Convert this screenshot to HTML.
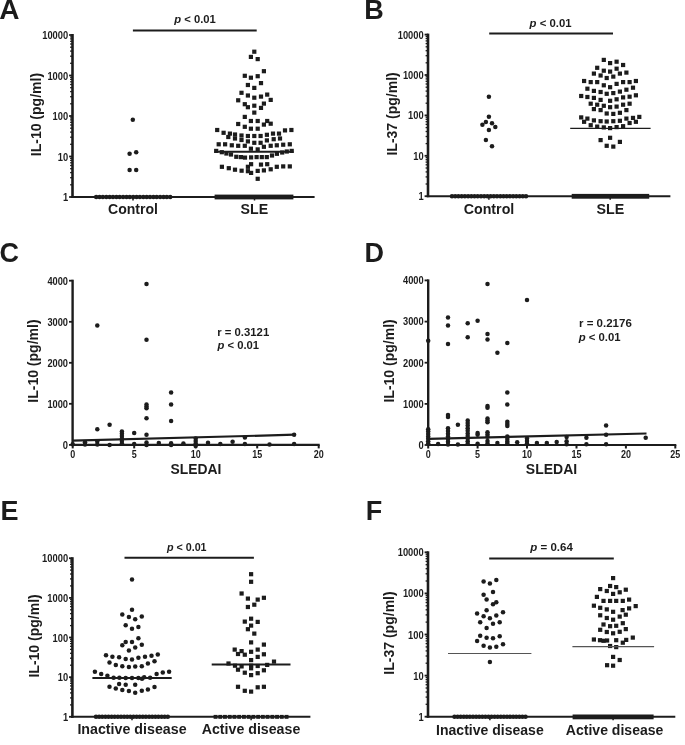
<!DOCTYPE html>
<html><head><meta charset="utf-8"><style>
html,body{margin:0;padding:0;background:#fff;}
svg{display:block;will-change:transform;}
text{font-family:"Liberation Sans",sans-serif;font-weight:bold;fill:#1c1c1c;}
</style></head><body>
<svg width="685" height="745" viewBox="0 0 685 745" fill="#1c1c1c">
<text x="-0.8" y="18.9" font-size="28">A</text>
<line x1="72.5" y1="34.0" x2="72.5" y2="198.0" stroke="#1c1c1c" stroke-width="2.6"/>
<line x1="71.2" y1="197.0" x2="314.6" y2="197.0" stroke="#1c1c1c" stroke-width="2.0"/>
<line x1="69.1" y1="35.0" x2="72.5" y2="35.0" stroke="#1c1c1c" stroke-width="1.8"/>
<text x="68.2" y="39.0" font-size="10.6" text-anchor="end" textLength="26.0" lengthAdjust="spacingAndGlyphs">10000</text>
<line x1="70.1" y1="63.3" x2="72.5" y2="63.3" stroke="#1c1c1c" stroke-width="1.3"/>
<line x1="70.1" y1="56.2" x2="72.5" y2="56.2" stroke="#1c1c1c" stroke-width="1.3"/>
<line x1="70.1" y1="51.1" x2="72.5" y2="51.1" stroke="#1c1c1c" stroke-width="1.3"/>
<line x1="70.1" y1="47.2" x2="72.5" y2="47.2" stroke="#1c1c1c" stroke-width="1.3"/>
<line x1="70.1" y1="44.0" x2="72.5" y2="44.0" stroke="#1c1c1c" stroke-width="1.3"/>
<line x1="70.1" y1="41.3" x2="72.5" y2="41.3" stroke="#1c1c1c" stroke-width="1.3"/>
<line x1="70.1" y1="38.9" x2="72.5" y2="38.9" stroke="#1c1c1c" stroke-width="1.3"/>
<line x1="70.1" y1="36.9" x2="72.5" y2="36.9" stroke="#1c1c1c" stroke-width="1.3"/>
<line x1="69.1" y1="75.5" x2="72.5" y2="75.5" stroke="#1c1c1c" stroke-width="1.8"/>
<text x="68.2" y="79.5" font-size="10.6" text-anchor="end" textLength="20.8" lengthAdjust="spacingAndGlyphs">1000</text>
<line x1="70.1" y1="103.8" x2="72.5" y2="103.8" stroke="#1c1c1c" stroke-width="1.3"/>
<line x1="70.1" y1="96.7" x2="72.5" y2="96.7" stroke="#1c1c1c" stroke-width="1.3"/>
<line x1="70.1" y1="91.6" x2="72.5" y2="91.6" stroke="#1c1c1c" stroke-width="1.3"/>
<line x1="70.1" y1="87.7" x2="72.5" y2="87.7" stroke="#1c1c1c" stroke-width="1.3"/>
<line x1="70.1" y1="84.5" x2="72.5" y2="84.5" stroke="#1c1c1c" stroke-width="1.3"/>
<line x1="70.1" y1="81.8" x2="72.5" y2="81.8" stroke="#1c1c1c" stroke-width="1.3"/>
<line x1="70.1" y1="79.4" x2="72.5" y2="79.4" stroke="#1c1c1c" stroke-width="1.3"/>
<line x1="70.1" y1="77.4" x2="72.5" y2="77.4" stroke="#1c1c1c" stroke-width="1.3"/>
<line x1="69.1" y1="116.0" x2="72.5" y2="116.0" stroke="#1c1c1c" stroke-width="1.8"/>
<text x="68.2" y="120.0" font-size="10.6" text-anchor="end" textLength="15.6" lengthAdjust="spacingAndGlyphs">100</text>
<line x1="70.1" y1="144.3" x2="72.5" y2="144.3" stroke="#1c1c1c" stroke-width="1.3"/>
<line x1="70.1" y1="137.2" x2="72.5" y2="137.2" stroke="#1c1c1c" stroke-width="1.3"/>
<line x1="70.1" y1="132.1" x2="72.5" y2="132.1" stroke="#1c1c1c" stroke-width="1.3"/>
<line x1="70.1" y1="128.2" x2="72.5" y2="128.2" stroke="#1c1c1c" stroke-width="1.3"/>
<line x1="70.1" y1="125.0" x2="72.5" y2="125.0" stroke="#1c1c1c" stroke-width="1.3"/>
<line x1="70.1" y1="122.3" x2="72.5" y2="122.3" stroke="#1c1c1c" stroke-width="1.3"/>
<line x1="70.1" y1="119.9" x2="72.5" y2="119.9" stroke="#1c1c1c" stroke-width="1.3"/>
<line x1="70.1" y1="117.9" x2="72.5" y2="117.9" stroke="#1c1c1c" stroke-width="1.3"/>
<line x1="69.1" y1="156.5" x2="72.5" y2="156.5" stroke="#1c1c1c" stroke-width="1.8"/>
<text x="68.2" y="160.5" font-size="10.6" text-anchor="end" textLength="10.4" lengthAdjust="spacingAndGlyphs">10</text>
<line x1="70.1" y1="184.8" x2="72.5" y2="184.8" stroke="#1c1c1c" stroke-width="1.3"/>
<line x1="70.1" y1="177.7" x2="72.5" y2="177.7" stroke="#1c1c1c" stroke-width="1.3"/>
<line x1="70.1" y1="172.6" x2="72.5" y2="172.6" stroke="#1c1c1c" stroke-width="1.3"/>
<line x1="70.1" y1="168.7" x2="72.5" y2="168.7" stroke="#1c1c1c" stroke-width="1.3"/>
<line x1="70.1" y1="165.5" x2="72.5" y2="165.5" stroke="#1c1c1c" stroke-width="1.3"/>
<line x1="70.1" y1="162.8" x2="72.5" y2="162.8" stroke="#1c1c1c" stroke-width="1.3"/>
<line x1="70.1" y1="160.4" x2="72.5" y2="160.4" stroke="#1c1c1c" stroke-width="1.3"/>
<line x1="70.1" y1="158.4" x2="72.5" y2="158.4" stroke="#1c1c1c" stroke-width="1.3"/>
<line x1="69.1" y1="197.0" x2="72.5" y2="197.0" stroke="#1c1c1c" stroke-width="1.8"/>
<text x="68.2" y="201.0" font-size="10.6" text-anchor="end" textLength="5.2" lengthAdjust="spacingAndGlyphs">1</text>
<text transform="translate(41.0,114.6) rotate(-90)" x="0" y="0" font-size="14" text-anchor="middle" textLength="83.3" lengthAdjust="spacingAndGlyphs">IL-10 (pg/ml)</text>
<line x1="132.9" y1="30.4" x2="256.7" y2="30.4" stroke="#1c1c1c" stroke-width="2"/>
<text x="174.2" y="23.4" font-size="10.6" textLength="41.6" lengthAdjust="spacingAndGlyphs"><tspan font-style="italic">p</tspan> &lt; 0.01</text>
<line x1="133.0" y1="197.0" x2="133.0" y2="200.5" stroke="#1c1c1c" stroke-width="1.5"/>
<line x1="254.5" y1="197.0" x2="254.5" y2="200.5" stroke="#1c1c1c" stroke-width="1.5"/>
<text x="133.0" y="214.2" font-size="14.5" text-anchor="middle" textLength="50" lengthAdjust="spacingAndGlyphs">Control</text>
<text x="254.4" y="214.2" font-size="14.5" text-anchor="middle" textLength="27.6" lengthAdjust="spacingAndGlyphs">SLE</text>
<circle cx="132.8" cy="119.8" r="2.25"/>
<circle cx="129.6" cy="153.8" r="2.25"/>
<circle cx="136.2" cy="152.3" r="2.25"/>
<circle cx="129.6" cy="169.9" r="2.25"/>
<circle cx="136.2" cy="169.9" r="2.25"/>
<circle cx="96.2" cy="197.0" r="2.25"/>
<circle cx="99.6" cy="197.0" r="2.25"/>
<circle cx="102.9" cy="197.0" r="2.25"/>
<circle cx="106.3" cy="197.0" r="2.25"/>
<circle cx="109.7" cy="197.0" r="2.25"/>
<circle cx="113.0" cy="197.0" r="2.25"/>
<circle cx="116.4" cy="197.0" r="2.25"/>
<circle cx="119.7" cy="197.0" r="2.25"/>
<circle cx="123.1" cy="197.0" r="2.25"/>
<circle cx="126.5" cy="197.0" r="2.25"/>
<circle cx="129.8" cy="197.0" r="2.25"/>
<circle cx="133.2" cy="197.0" r="2.25"/>
<circle cx="136.6" cy="197.0" r="2.25"/>
<circle cx="139.9" cy="197.0" r="2.25"/>
<circle cx="143.3" cy="197.0" r="2.25"/>
<circle cx="146.7" cy="197.0" r="2.25"/>
<circle cx="150.0" cy="197.0" r="2.25"/>
<circle cx="153.4" cy="197.0" r="2.25"/>
<circle cx="156.7" cy="197.0" r="2.25"/>
<circle cx="160.1" cy="197.0" r="2.25"/>
<circle cx="163.5" cy="197.0" r="2.25"/>
<circle cx="166.8" cy="197.0" r="2.25"/>
<circle cx="170.2" cy="197.0" r="2.25"/>
<rect x="252.2" y="49.6" width="4.2" height="4.2"/>
<rect x="248.8" y="54.8" width="4.2" height="4.2"/>
<rect x="255.6" y="57.0" width="4.2" height="4.2"/>
<rect x="261.8" y="69.1" width="4.2" height="4.2"/>
<rect x="242.7" y="73.7" width="4.2" height="4.2"/>
<rect x="248.8" y="75.6" width="4.2" height="4.2"/>
<rect x="255.6" y="74.1" width="4.2" height="4.2"/>
<rect x="258.9" y="81.0" width="4.2" height="4.2"/>
<rect x="245.8" y="82.9" width="4.2" height="4.2"/>
<rect x="252.2" y="85.8" width="4.2" height="4.2"/>
<rect x="239.4" y="90.7" width="4.2" height="4.2"/>
<rect x="245.8" y="93.4" width="4.2" height="4.2"/>
<rect x="252.2" y="95.6" width="4.2" height="4.2"/>
<rect x="258.9" y="94.5" width="4.2" height="4.2"/>
<rect x="265.1" y="92.5" width="4.2" height="4.2"/>
<rect x="236.1" y="98.2" width="4.2" height="4.2"/>
<rect x="268.6" y="97.8" width="4.2" height="4.2"/>
<rect x="242.7" y="102.1" width="4.2" height="4.2"/>
<rect x="245.8" y="105.1" width="4.2" height="4.2"/>
<rect x="252.2" y="103.6" width="4.2" height="4.2"/>
<rect x="261.8" y="101.5" width="4.2" height="4.2"/>
<rect x="258.9" y="105.8" width="4.2" height="4.2"/>
<rect x="252.2" y="110.5" width="4.2" height="4.2"/>
<rect x="242.7" y="114.8" width="4.2" height="4.2"/>
<rect x="248.8" y="118.9" width="4.2" height="4.2"/>
<rect x="255.6" y="118.9" width="4.2" height="4.2"/>
<rect x="265.1" y="118.9" width="4.2" height="4.2"/>
<rect x="236.1" y="121.9" width="4.2" height="4.2"/>
<rect x="261.8" y="122.5" width="4.2" height="4.2"/>
<rect x="268.6" y="121.6" width="4.2" height="4.2"/>
<rect x="242.7" y="124.7" width="4.2" height="4.2"/>
<rect x="248.8" y="126.6" width="4.2" height="4.2"/>
<rect x="255.6" y="126.6" width="4.2" height="4.2"/>
<rect x="215.1" y="127.9" width="4.2" height="4.2"/>
<rect x="282.9" y="128.3" width="4.2" height="4.2"/>
<rect x="289.3" y="127.9" width="4.2" height="4.2"/>
<rect x="221.5" y="130.7" width="4.2" height="4.2"/>
<rect x="227.8" y="131.5" width="4.2" height="4.2"/>
<rect x="232.9" y="132.4" width="4.2" height="4.2"/>
<rect x="239.4" y="133.4" width="4.2" height="4.2"/>
<rect x="245.8" y="133.9" width="4.2" height="4.2"/>
<rect x="252.2" y="133.9" width="4.2" height="4.2"/>
<rect x="258.5" y="133.9" width="4.2" height="4.2"/>
<rect x="264.8" y="132.7" width="4.2" height="4.2"/>
<rect x="270.9" y="131.5" width="4.2" height="4.2"/>
<rect x="276.9" y="131.5" width="4.2" height="4.2"/>
<rect x="226.2" y="134.9" width="4.2" height="4.2"/>
<rect x="232.9" y="136.4" width="4.2" height="4.2"/>
<rect x="239.4" y="137.9" width="4.2" height="4.2"/>
<rect x="245.8" y="139.3" width="4.2" height="4.2"/>
<rect x="252.2" y="140.7" width="4.2" height="4.2"/>
<rect x="258.5" y="140.7" width="4.2" height="4.2"/>
<rect x="264.8" y="138.3" width="4.2" height="4.2"/>
<rect x="271.6" y="137.1" width="4.2" height="4.2"/>
<rect x="277.9" y="136.4" width="4.2" height="4.2"/>
<rect x="216.6" y="142.2" width="4.2" height="4.2"/>
<rect x="223.0" y="142.2" width="4.2" height="4.2"/>
<rect x="229.7" y="143.2" width="4.2" height="4.2"/>
<rect x="236.1" y="143.7" width="4.2" height="4.2"/>
<rect x="242.7" y="143.7" width="4.2" height="4.2"/>
<rect x="248.8" y="146.6" width="4.2" height="4.2"/>
<rect x="255.6" y="147.3" width="4.2" height="4.2"/>
<rect x="261.8" y="144.7" width="4.2" height="4.2"/>
<rect x="268.6" y="143.7" width="4.2" height="4.2"/>
<rect x="274.7" y="143.2" width="4.2" height="4.2"/>
<rect x="281.1" y="142.6" width="4.2" height="4.2"/>
<rect x="287.7" y="142.2" width="4.2" height="4.2"/>
<rect x="214.1" y="148.8" width="4.2" height="4.2"/>
<rect x="219.7" y="150.1" width="4.2" height="4.2"/>
<rect x="224.3" y="151.4" width="4.2" height="4.2"/>
<rect x="228.9" y="152.4" width="4.2" height="4.2"/>
<rect x="234.2" y="154.7" width="4.2" height="4.2"/>
<rect x="238.8" y="155.0" width="4.2" height="4.2"/>
<rect x="242.9" y="155.5" width="4.2" height="4.2"/>
<rect x="249.0" y="155.3" width="4.2" height="4.2"/>
<rect x="254.5" y="155.0" width="4.2" height="4.2"/>
<rect x="259.7" y="155.0" width="4.2" height="4.2"/>
<rect x="264.7" y="155.0" width="4.2" height="4.2"/>
<rect x="269.9" y="153.4" width="4.2" height="4.2"/>
<rect x="274.8" y="151.7" width="4.2" height="4.2"/>
<rect x="280.1" y="150.4" width="4.2" height="4.2"/>
<rect x="284.7" y="149.4" width="4.2" height="4.2"/>
<rect x="289.6" y="148.8" width="4.2" height="4.2"/>
<rect x="219.8" y="164.7" width="4.2" height="4.2"/>
<rect x="226.7" y="166.1" width="4.2" height="4.2"/>
<rect x="232.9" y="167.6" width="4.2" height="4.2"/>
<rect x="239.5" y="168.6" width="4.2" height="4.2"/>
<rect x="245.8" y="164.7" width="4.2" height="4.2"/>
<rect x="249.0" y="162.1" width="4.2" height="4.2"/>
<rect x="245.8" y="169.1" width="4.2" height="4.2"/>
<rect x="249.0" y="170.8" width="4.2" height="4.2"/>
<rect x="255.6" y="168.8" width="4.2" height="4.2"/>
<rect x="258.9" y="162.5" width="4.2" height="4.2"/>
<rect x="265.1" y="162.1" width="4.2" height="4.2"/>
<rect x="261.8" y="168.3" width="4.2" height="4.2"/>
<rect x="268.6" y="167.2" width="4.2" height="4.2"/>
<rect x="274.7" y="164.7" width="4.2" height="4.2"/>
<rect x="281.1" y="164.3" width="4.2" height="4.2"/>
<rect x="287.7" y="164.3" width="4.2" height="4.2"/>
<rect x="255.6" y="176.7" width="4.2" height="4.2"/>
<line x1="214.6" y1="151.8" x2="293.4" y2="151.8" stroke="#1c1c1c" stroke-width="2"/>
<rect x="214.6" y="194.6" width="78.8" height="4.8"/>
<text x="364.3" y="18.8" font-size="27">B</text>
<line x1="428.0" y1="33.6" x2="428.0" y2="197.2" stroke="#1c1c1c" stroke-width="2.6"/>
<line x1="426.7" y1="196.2" x2="670.4" y2="196.2" stroke="#1c1c1c" stroke-width="2.0"/>
<line x1="424.6" y1="34.6" x2="428.0" y2="34.6" stroke="#1c1c1c" stroke-width="1.8"/>
<text x="423.7" y="38.6" font-size="10.6" text-anchor="end" textLength="26.0" lengthAdjust="spacingAndGlyphs">10000</text>
<line x1="425.6" y1="62.8" x2="428.0" y2="62.8" stroke="#1c1c1c" stroke-width="1.3"/>
<line x1="425.6" y1="55.7" x2="428.0" y2="55.7" stroke="#1c1c1c" stroke-width="1.3"/>
<line x1="425.6" y1="50.7" x2="428.0" y2="50.7" stroke="#1c1c1c" stroke-width="1.3"/>
<line x1="425.6" y1="46.8" x2="428.0" y2="46.8" stroke="#1c1c1c" stroke-width="1.3"/>
<line x1="425.6" y1="43.6" x2="428.0" y2="43.6" stroke="#1c1c1c" stroke-width="1.3"/>
<line x1="425.6" y1="40.9" x2="428.0" y2="40.9" stroke="#1c1c1c" stroke-width="1.3"/>
<line x1="425.6" y1="38.5" x2="428.0" y2="38.5" stroke="#1c1c1c" stroke-width="1.3"/>
<line x1="425.6" y1="36.4" x2="428.0" y2="36.4" stroke="#1c1c1c" stroke-width="1.3"/>
<line x1="424.6" y1="75.0" x2="428.0" y2="75.0" stroke="#1c1c1c" stroke-width="1.8"/>
<text x="423.7" y="79.0" font-size="10.6" text-anchor="end" textLength="20.8" lengthAdjust="spacingAndGlyphs">1000</text>
<line x1="425.6" y1="103.2" x2="428.0" y2="103.2" stroke="#1c1c1c" stroke-width="1.3"/>
<line x1="425.6" y1="96.1" x2="428.0" y2="96.1" stroke="#1c1c1c" stroke-width="1.3"/>
<line x1="425.6" y1="91.1" x2="428.0" y2="91.1" stroke="#1c1c1c" stroke-width="1.3"/>
<line x1="425.6" y1="87.2" x2="428.0" y2="87.2" stroke="#1c1c1c" stroke-width="1.3"/>
<line x1="425.6" y1="84.0" x2="428.0" y2="84.0" stroke="#1c1c1c" stroke-width="1.3"/>
<line x1="425.6" y1="81.3" x2="428.0" y2="81.3" stroke="#1c1c1c" stroke-width="1.3"/>
<line x1="425.6" y1="78.9" x2="428.0" y2="78.9" stroke="#1c1c1c" stroke-width="1.3"/>
<line x1="425.6" y1="76.8" x2="428.0" y2="76.8" stroke="#1c1c1c" stroke-width="1.3"/>
<line x1="424.6" y1="115.4" x2="428.0" y2="115.4" stroke="#1c1c1c" stroke-width="1.8"/>
<text x="423.7" y="119.4" font-size="10.6" text-anchor="end" textLength="15.6" lengthAdjust="spacingAndGlyphs">100</text>
<line x1="425.6" y1="143.6" x2="428.0" y2="143.6" stroke="#1c1c1c" stroke-width="1.3"/>
<line x1="425.6" y1="136.5" x2="428.0" y2="136.5" stroke="#1c1c1c" stroke-width="1.3"/>
<line x1="425.6" y1="131.5" x2="428.0" y2="131.5" stroke="#1c1c1c" stroke-width="1.3"/>
<line x1="425.6" y1="127.6" x2="428.0" y2="127.6" stroke="#1c1c1c" stroke-width="1.3"/>
<line x1="425.6" y1="124.4" x2="428.0" y2="124.4" stroke="#1c1c1c" stroke-width="1.3"/>
<line x1="425.6" y1="121.7" x2="428.0" y2="121.7" stroke="#1c1c1c" stroke-width="1.3"/>
<line x1="425.6" y1="119.3" x2="428.0" y2="119.3" stroke="#1c1c1c" stroke-width="1.3"/>
<line x1="425.6" y1="117.2" x2="428.0" y2="117.2" stroke="#1c1c1c" stroke-width="1.3"/>
<line x1="424.6" y1="155.8" x2="428.0" y2="155.8" stroke="#1c1c1c" stroke-width="1.8"/>
<text x="423.7" y="159.8" font-size="10.6" text-anchor="end" textLength="10.4" lengthAdjust="spacingAndGlyphs">10</text>
<line x1="425.6" y1="184.0" x2="428.0" y2="184.0" stroke="#1c1c1c" stroke-width="1.3"/>
<line x1="425.6" y1="176.9" x2="428.0" y2="176.9" stroke="#1c1c1c" stroke-width="1.3"/>
<line x1="425.6" y1="171.9" x2="428.0" y2="171.9" stroke="#1c1c1c" stroke-width="1.3"/>
<line x1="425.6" y1="168.0" x2="428.0" y2="168.0" stroke="#1c1c1c" stroke-width="1.3"/>
<line x1="425.6" y1="164.8" x2="428.0" y2="164.8" stroke="#1c1c1c" stroke-width="1.3"/>
<line x1="425.6" y1="162.1" x2="428.0" y2="162.1" stroke="#1c1c1c" stroke-width="1.3"/>
<line x1="425.6" y1="159.7" x2="428.0" y2="159.7" stroke="#1c1c1c" stroke-width="1.3"/>
<line x1="425.6" y1="157.6" x2="428.0" y2="157.6" stroke="#1c1c1c" stroke-width="1.3"/>
<line x1="424.6" y1="196.2" x2="428.0" y2="196.2" stroke="#1c1c1c" stroke-width="1.8"/>
<text x="423.7" y="200.2" font-size="10.6" text-anchor="end" textLength="5.2" lengthAdjust="spacingAndGlyphs">1</text>
<text transform="translate(396.6,113.9) rotate(-90)" x="0" y="0" font-size="14" text-anchor="middle" textLength="83.3" lengthAdjust="spacingAndGlyphs">IL-37 (pg/ml)</text>
<line x1="489.2" y1="33.4" x2="613.0" y2="33.4" stroke="#1c1c1c" stroke-width="2"/>
<text x="529.6" y="26.9" font-size="10.6" textLength="42" lengthAdjust="spacingAndGlyphs"><tspan font-style="italic">p</tspan> &lt; 0.01</text>
<line x1="488.9" y1="196.2" x2="488.9" y2="199.7" stroke="#1c1c1c" stroke-width="1.5"/>
<line x1="610.2" y1="196.2" x2="610.2" y2="199.7" stroke="#1c1c1c" stroke-width="1.5"/>
<text x="489.0" y="213.9" font-size="14.5" text-anchor="middle" textLength="50.6" lengthAdjust="spacingAndGlyphs">Control</text>
<text x="610.4" y="213.9" font-size="14.5" text-anchor="middle" textLength="27.8" lengthAdjust="spacingAndGlyphs">SLE</text>
<circle cx="488.9" cy="96.7" r="2.25"/>
<circle cx="488.9" cy="116.8" r="2.25"/>
<circle cx="485.9" cy="122.0" r="2.25"/>
<circle cx="482.4" cy="124.7" r="2.25"/>
<circle cx="492.0" cy="123.2" r="2.25"/>
<circle cx="495.3" cy="126.9" r="2.25"/>
<circle cx="488.9" cy="130.0" r="2.25"/>
<circle cx="485.9" cy="140.1" r="2.25"/>
<circle cx="492.0" cy="146.3" r="2.25"/>
<circle cx="452.0" cy="196.2" r="2.25"/>
<circle cx="455.2" cy="196.2" r="2.25"/>
<circle cx="458.4" cy="196.2" r="2.25"/>
<circle cx="461.7" cy="196.2" r="2.25"/>
<circle cx="464.9" cy="196.2" r="2.25"/>
<circle cx="468.1" cy="196.2" r="2.25"/>
<circle cx="471.3" cy="196.2" r="2.25"/>
<circle cx="474.5" cy="196.2" r="2.25"/>
<circle cx="477.7" cy="196.2" r="2.25"/>
<circle cx="481.0" cy="196.2" r="2.25"/>
<circle cx="484.2" cy="196.2" r="2.25"/>
<circle cx="487.4" cy="196.2" r="2.25"/>
<circle cx="490.6" cy="196.2" r="2.25"/>
<circle cx="493.8" cy="196.2" r="2.25"/>
<circle cx="497.0" cy="196.2" r="2.25"/>
<circle cx="500.3" cy="196.2" r="2.25"/>
<circle cx="503.5" cy="196.2" r="2.25"/>
<circle cx="506.7" cy="196.2" r="2.25"/>
<circle cx="509.9" cy="196.2" r="2.25"/>
<circle cx="513.1" cy="196.2" r="2.25"/>
<circle cx="516.3" cy="196.2" r="2.25"/>
<circle cx="519.6" cy="196.2" r="2.25"/>
<circle cx="522.8" cy="196.2" r="2.25"/>
<circle cx="526.0" cy="196.2" r="2.25"/>
<rect x="601.7" y="57.8" width="4.2" height="4.2"/>
<rect x="608.0" y="61.0" width="4.2" height="4.2"/>
<rect x="614.5" y="59.6" width="4.2" height="4.2"/>
<rect x="621.0" y="62.9" width="4.2" height="4.2"/>
<rect x="595.1" y="65.7" width="4.2" height="4.2"/>
<rect x="601.7" y="68.6" width="4.2" height="4.2"/>
<rect x="608.0" y="69.5" width="4.2" height="4.2"/>
<rect x="614.5" y="66.6" width="4.2" height="4.2"/>
<rect x="591.8" y="71.5" width="4.2" height="4.2"/>
<rect x="598.5" y="73.4" width="4.2" height="4.2"/>
<rect x="604.6" y="75.9" width="4.2" height="4.2"/>
<rect x="611.2" y="74.5" width="4.2" height="4.2"/>
<rect x="617.8" y="71.5" width="4.2" height="4.2"/>
<rect x="624.3" y="70.5" width="4.2" height="4.2"/>
<rect x="582.0" y="78.9" width="4.2" height="4.2"/>
<rect x="588.6" y="80.0" width="4.2" height="4.2"/>
<rect x="595.1" y="80.0" width="4.2" height="4.2"/>
<rect x="601.7" y="83.2" width="4.2" height="4.2"/>
<rect x="608.0" y="85.1" width="4.2" height="4.2"/>
<rect x="614.5" y="81.8" width="4.2" height="4.2"/>
<rect x="621.0" y="80.0" width="4.2" height="4.2"/>
<rect x="627.5" y="80.0" width="4.2" height="4.2"/>
<rect x="633.8" y="78.9" width="4.2" height="4.2"/>
<rect x="585.3" y="86.6" width="4.2" height="4.2"/>
<rect x="591.8" y="88.8" width="4.2" height="4.2"/>
<rect x="598.5" y="89.9" width="4.2" height="4.2"/>
<rect x="604.6" y="91.7" width="4.2" height="4.2"/>
<rect x="611.2" y="91.0" width="4.2" height="4.2"/>
<rect x="617.8" y="89.5" width="4.2" height="4.2"/>
<rect x="624.3" y="87.6" width="4.2" height="4.2"/>
<rect x="630.9" y="85.6" width="4.2" height="4.2"/>
<rect x="579.1" y="93.9" width="4.2" height="4.2"/>
<rect x="585.3" y="94.9" width="4.2" height="4.2"/>
<rect x="591.8" y="95.8" width="4.2" height="4.2"/>
<rect x="598.5" y="97.8" width="4.2" height="4.2"/>
<rect x="608.0" y="98.7" width="4.2" height="4.2"/>
<rect x="614.5" y="97.2" width="4.2" height="4.2"/>
<rect x="621.0" y="95.3" width="4.2" height="4.2"/>
<rect x="627.5" y="94.6" width="4.2" height="4.2"/>
<rect x="633.8" y="93.2" width="4.2" height="4.2"/>
<rect x="588.6" y="101.6" width="4.2" height="4.2"/>
<rect x="595.1" y="102.6" width="4.2" height="4.2"/>
<rect x="601.7" y="103.7" width="4.2" height="4.2"/>
<rect x="608.0" y="105.1" width="4.2" height="4.2"/>
<rect x="614.5" y="104.5" width="4.2" height="4.2"/>
<rect x="621.0" y="102.6" width="4.2" height="4.2"/>
<rect x="627.5" y="101.6" width="4.2" height="4.2"/>
<rect x="591.8" y="107.0" width="4.2" height="4.2"/>
<rect x="598.5" y="108.0" width="4.2" height="4.2"/>
<rect x="604.6" y="111.4" width="4.2" height="4.2"/>
<rect x="611.2" y="111.8" width="4.2" height="4.2"/>
<rect x="617.8" y="110.7" width="4.2" height="4.2"/>
<rect x="624.3" y="108.0" width="4.2" height="4.2"/>
<rect x="579.1" y="115.3" width="4.2" height="4.2"/>
<rect x="585.3" y="116.5" width="4.2" height="4.2"/>
<rect x="582.0" y="119.7" width="4.2" height="4.2"/>
<rect x="591.8" y="118.3" width="4.2" height="4.2"/>
<rect x="598.5" y="119.1" width="4.2" height="4.2"/>
<rect x="604.6" y="119.4" width="4.2" height="4.2"/>
<rect x="611.2" y="119.1" width="4.2" height="4.2"/>
<rect x="617.8" y="118.7" width="4.2" height="4.2"/>
<rect x="624.3" y="116.5" width="4.2" height="4.2"/>
<rect x="630.9" y="115.8" width="4.2" height="4.2"/>
<rect x="637.2" y="114.8" width="4.2" height="4.2"/>
<rect x="627.5" y="120.9" width="4.2" height="4.2"/>
<rect x="633.8" y="119.7" width="4.2" height="4.2"/>
<rect x="588.6" y="123.1" width="4.2" height="4.2"/>
<rect x="595.1" y="124.5" width="4.2" height="4.2"/>
<rect x="601.7" y="125.3" width="4.2" height="4.2"/>
<rect x="608.0" y="126.0" width="4.2" height="4.2"/>
<rect x="614.5" y="125.0" width="4.2" height="4.2"/>
<rect x="621.0" y="124.1" width="4.2" height="4.2"/>
<rect x="598.5" y="138.0" width="4.2" height="4.2"/>
<rect x="608.0" y="135.7" width="4.2" height="4.2"/>
<rect x="617.8" y="139.8" width="4.2" height="4.2"/>
<rect x="604.6" y="143.7" width="4.2" height="4.2"/>
<rect x="611.2" y="144.5" width="4.2" height="4.2"/>
<line x1="570.2" y1="128.4" x2="650.6" y2="128.4" stroke="#1c1c1c" stroke-width="1.3"/>
<rect x="571.7" y="193.9" width="77.5" height="4.8"/>
<text x="-0.5" y="262.2" font-size="27">C</text>
<line x1="72.6" y1="279.7" x2="72.6" y2="445.9" stroke="#1c1c1c" stroke-width="2.4"/>
<line x1="71.4" y1="444.9" x2="319.7" y2="444.9" stroke="#1c1c1c" stroke-width="2.2"/>
<line x1="69.0" y1="444.9" x2="72.6" y2="444.9" stroke="#1c1c1c" stroke-width="1.8"/>
<text x="68.0" y="448.7" font-size="10.4" text-anchor="end" textLength="5.2" lengthAdjust="spacingAndGlyphs">0</text>
<line x1="69.0" y1="403.8" x2="72.6" y2="403.8" stroke="#1c1c1c" stroke-width="1.8"/>
<text x="68.0" y="407.6" font-size="10.4" text-anchor="end" textLength="20.6" lengthAdjust="spacingAndGlyphs">1000</text>
<line x1="69.0" y1="362.8" x2="72.6" y2="362.8" stroke="#1c1c1c" stroke-width="1.8"/>
<text x="68.0" y="366.6" font-size="10.4" text-anchor="end" textLength="20.6" lengthAdjust="spacingAndGlyphs">2000</text>
<line x1="69.0" y1="321.8" x2="72.6" y2="321.8" stroke="#1c1c1c" stroke-width="1.8"/>
<text x="68.0" y="325.6" font-size="10.4" text-anchor="end" textLength="20.6" lengthAdjust="spacingAndGlyphs">3000</text>
<line x1="69.0" y1="280.7" x2="72.6" y2="280.7" stroke="#1c1c1c" stroke-width="1.8"/>
<text x="68.0" y="284.5" font-size="10.4" text-anchor="end" textLength="20.6" lengthAdjust="spacingAndGlyphs">4000</text>
<line x1="72.7" y1="444.9" x2="72.7" y2="448.4" stroke="#1c1c1c" stroke-width="2"/>
<text x="72.7" y="458.1" font-size="10.2" text-anchor="middle" textLength="5.0" lengthAdjust="spacingAndGlyphs">0</text>
<line x1="134.2" y1="444.9" x2="134.2" y2="448.4" stroke="#1c1c1c" stroke-width="2"/>
<text x="134.2" y="458.1" font-size="10.2" text-anchor="middle" textLength="5.0" lengthAdjust="spacingAndGlyphs">5</text>
<line x1="195.7" y1="444.9" x2="195.7" y2="448.4" stroke="#1c1c1c" stroke-width="2"/>
<text x="195.7" y="458.1" font-size="10.2" text-anchor="middle" textLength="10.0" lengthAdjust="spacingAndGlyphs">10</text>
<line x1="257.2" y1="444.9" x2="257.2" y2="448.4" stroke="#1c1c1c" stroke-width="2"/>
<text x="257.2" y="458.1" font-size="10.2" text-anchor="middle" textLength="10.0" lengthAdjust="spacingAndGlyphs">15</text>
<line x1="318.7" y1="444.9" x2="318.7" y2="448.4" stroke="#1c1c1c" stroke-width="2"/>
<text x="318.7" y="458.1" font-size="10.2" text-anchor="middle" textLength="10.0" lengthAdjust="spacingAndGlyphs">20</text>
<text transform="translate(38.2,361.1) rotate(-90)" x="0" y="0" font-size="14" text-anchor="middle" textLength="83.3" lengthAdjust="spacingAndGlyphs">IL-10 (pg/ml)</text>
<text x="195.9" y="473.9" font-size="14.5" text-anchor="middle" textLength="50.9" lengthAdjust="spacingAndGlyphs">SLEDAI</text>
<text x="217.2" y="336.0" font-size="11" textLength="52" lengthAdjust="spacingAndGlyphs">r = 0.3121</text>
<text x="217.5" y="349.4" font-size="11" textLength="41.6" lengthAdjust="spacingAndGlyphs"><tspan font-style="italic">p</tspan> &lt; 0.01</text>
<line x1="72.7" y1="440.6" x2="294.7" y2="434.7" stroke="#1c1c1c" stroke-width="2.2"/>
<circle cx="72.7" cy="444.3" r="2.25"/>
<circle cx="85.0" cy="442.3" r="2.25"/>
<circle cx="85.0" cy="444.5" r="2.25"/>
<circle cx="97.3" cy="325.4" r="2.25"/>
<circle cx="97.3" cy="429.2" r="2.25"/>
<circle cx="97.3" cy="441.4" r="2.25"/>
<circle cx="97.3" cy="444.6" r="2.25"/>
<circle cx="109.6" cy="424.7" r="2.25"/>
<circle cx="109.6" cy="444.9" r="2.25"/>
<circle cx="121.9" cy="431.5" r="2.25"/>
<circle cx="121.9" cy="433.7" r="2.25"/>
<circle cx="121.9" cy="436.0" r="2.25"/>
<circle cx="121.9" cy="438.5" r="2.25"/>
<circle cx="121.9" cy="441.0" r="2.25"/>
<circle cx="121.9" cy="443.5" r="2.25"/>
<circle cx="134.2" cy="432.9" r="2.25"/>
<circle cx="134.2" cy="444.0" r="2.25"/>
<circle cx="146.5" cy="284.1" r="2.25"/>
<circle cx="146.5" cy="339.8" r="2.25"/>
<circle cx="146.5" cy="404.6" r="2.25"/>
<circle cx="146.5" cy="406.4" r="2.25"/>
<circle cx="146.5" cy="408.3" r="2.25"/>
<circle cx="146.5" cy="418.3" r="2.25"/>
<circle cx="146.5" cy="434.7" r="2.25"/>
<circle cx="146.5" cy="442.4" r="2.25"/>
<circle cx="146.5" cy="444.9" r="2.25"/>
<circle cx="158.8" cy="442.9" r="2.25"/>
<circle cx="171.1" cy="392.5" r="2.25"/>
<circle cx="171.1" cy="404.6" r="2.25"/>
<circle cx="171.1" cy="421.0" r="2.25"/>
<circle cx="171.1" cy="443.3" r="2.25"/>
<circle cx="171.1" cy="445.0" r="2.25"/>
<circle cx="183.4" cy="443.6" r="2.25"/>
<circle cx="195.7" cy="438.5" r="2.25"/>
<circle cx="195.7" cy="441.0" r="2.25"/>
<circle cx="195.7" cy="443.5" r="2.25"/>
<circle cx="195.7" cy="446.0" r="2.25"/>
<circle cx="208.0" cy="442.8" r="2.25"/>
<circle cx="220.3" cy="443.9" r="2.25"/>
<circle cx="232.6" cy="441.8" r="2.25"/>
<circle cx="244.9" cy="437.4" r="2.25"/>
<circle cx="244.9" cy="443.9" r="2.25"/>
<circle cx="269.5" cy="444.4" r="2.25"/>
<circle cx="294.1" cy="434.7" r="2.25"/>
<circle cx="294.1" cy="443.9" r="2.25"/>
<text x="364.5" y="262.4" font-size="27">D</text>
<line x1="428.2" y1="279.4" x2="428.2" y2="446.0" stroke="#1c1c1c" stroke-width="2.4"/>
<line x1="427.0" y1="445.0" x2="676.3" y2="445.0" stroke="#1c1c1c" stroke-width="2.2"/>
<line x1="424.6" y1="445.0" x2="428.2" y2="445.0" stroke="#1c1c1c" stroke-width="1.8"/>
<text x="423.6" y="448.8" font-size="10.4" text-anchor="end" textLength="5.2" lengthAdjust="spacingAndGlyphs">0</text>
<line x1="424.6" y1="403.9" x2="428.2" y2="403.9" stroke="#1c1c1c" stroke-width="1.8"/>
<text x="423.6" y="407.7" font-size="10.4" text-anchor="end" textLength="20.6" lengthAdjust="spacingAndGlyphs">1000</text>
<line x1="424.6" y1="362.7" x2="428.2" y2="362.7" stroke="#1c1c1c" stroke-width="1.8"/>
<text x="423.6" y="366.5" font-size="10.4" text-anchor="end" textLength="20.6" lengthAdjust="spacingAndGlyphs">2000</text>
<line x1="424.6" y1="321.6" x2="428.2" y2="321.6" stroke="#1c1c1c" stroke-width="1.8"/>
<text x="423.6" y="325.4" font-size="10.4" text-anchor="end" textLength="20.6" lengthAdjust="spacingAndGlyphs">3000</text>
<line x1="424.6" y1="280.4" x2="428.2" y2="280.4" stroke="#1c1c1c" stroke-width="1.8"/>
<text x="423.6" y="284.2" font-size="10.4" text-anchor="end" textLength="20.6" lengthAdjust="spacingAndGlyphs">4000</text>
<line x1="428.2" y1="445.0" x2="428.2" y2="448.5" stroke="#1c1c1c" stroke-width="2"/>
<text x="428.2" y="458.2" font-size="10.2" text-anchor="middle" textLength="5.0" lengthAdjust="spacingAndGlyphs">0</text>
<line x1="477.6" y1="445.0" x2="477.6" y2="448.5" stroke="#1c1c1c" stroke-width="2"/>
<text x="477.6" y="458.2" font-size="10.2" text-anchor="middle" textLength="5.0" lengthAdjust="spacingAndGlyphs">5</text>
<line x1="527.0" y1="445.0" x2="527.0" y2="448.5" stroke="#1c1c1c" stroke-width="2"/>
<text x="527.0" y="458.2" font-size="10.2" text-anchor="middle" textLength="10.0" lengthAdjust="spacingAndGlyphs">10</text>
<line x1="576.5" y1="445.0" x2="576.5" y2="448.5" stroke="#1c1c1c" stroke-width="2"/>
<text x="576.5" y="458.2" font-size="10.2" text-anchor="middle" textLength="10.0" lengthAdjust="spacingAndGlyphs">15</text>
<line x1="625.9" y1="445.0" x2="625.9" y2="448.5" stroke="#1c1c1c" stroke-width="2"/>
<text x="625.9" y="458.2" font-size="10.2" text-anchor="middle" textLength="10.0" lengthAdjust="spacingAndGlyphs">20</text>
<line x1="675.3" y1="445.0" x2="675.3" y2="448.5" stroke="#1c1c1c" stroke-width="2"/>
<text x="675.3" y="458.2" font-size="10.2" text-anchor="middle" textLength="10.0" lengthAdjust="spacingAndGlyphs">25</text>
<text transform="translate(394.0,360.9) rotate(-90)" x="0" y="0" font-size="14" text-anchor="middle" textLength="83.3" lengthAdjust="spacingAndGlyphs">IL-10 (pg/ml)</text>
<text x="551.5" y="474.0" font-size="14.5" text-anchor="middle" textLength="51.3" lengthAdjust="spacingAndGlyphs">SLEDAI</text>
<text x="579.0" y="326.8" font-size="11" textLength="52.8" lengthAdjust="spacingAndGlyphs">r = 0.2176</text>
<text x="578.7" y="340.7" font-size="11" textLength="41.9" lengthAdjust="spacingAndGlyphs"><tspan font-style="italic">p</tspan> &lt; 0.01</text>
<line x1="428.2" y1="438.9" x2="646.5" y2="433.5" stroke="#1c1c1c" stroke-width="2.2"/>
<circle cx="428.2" cy="340.7" r="2.25"/>
<circle cx="428.2" cy="429.2" r="2.25"/>
<circle cx="428.2" cy="431.6" r="2.25"/>
<circle cx="428.2" cy="434.0" r="2.25"/>
<circle cx="428.2" cy="436.4" r="2.25"/>
<circle cx="428.2" cy="438.8" r="2.25"/>
<circle cx="428.2" cy="441.2" r="2.25"/>
<circle cx="428.2" cy="443.6" r="2.25"/>
<circle cx="438.1" cy="444.0" r="2.25"/>
<circle cx="448.0" cy="317.5" r="2.25"/>
<circle cx="448.0" cy="325.4" r="2.25"/>
<circle cx="448.0" cy="344.1" r="2.25"/>
<circle cx="448.0" cy="415.0" r="2.25"/>
<circle cx="448.0" cy="417.0" r="2.25"/>
<circle cx="448.0" cy="428.3" r="2.25"/>
<circle cx="448.0" cy="431.0" r="2.25"/>
<circle cx="448.0" cy="433.7" r="2.25"/>
<circle cx="448.0" cy="436.4" r="2.25"/>
<circle cx="448.0" cy="439.1" r="2.25"/>
<circle cx="448.0" cy="441.8" r="2.25"/>
<circle cx="448.0" cy="444.5" r="2.25"/>
<circle cx="457.9" cy="424.7" r="2.25"/>
<circle cx="457.9" cy="444.4" r="2.25"/>
<circle cx="467.7" cy="323.2" r="2.25"/>
<circle cx="467.7" cy="337.3" r="2.25"/>
<circle cx="467.7" cy="420.4" r="2.25"/>
<circle cx="467.7" cy="423.0" r="2.25"/>
<circle cx="467.7" cy="425.6" r="2.25"/>
<circle cx="467.7" cy="428.2" r="2.25"/>
<circle cx="467.7" cy="430.8" r="2.25"/>
<circle cx="467.7" cy="433.4" r="2.25"/>
<circle cx="467.7" cy="436.0" r="2.25"/>
<circle cx="467.7" cy="438.6" r="2.25"/>
<circle cx="467.7" cy="441.2" r="2.25"/>
<circle cx="467.7" cy="443.8" r="2.25"/>
<circle cx="477.6" cy="320.7" r="2.25"/>
<circle cx="477.6" cy="433.0" r="2.25"/>
<circle cx="477.6" cy="434.8" r="2.25"/>
<circle cx="477.6" cy="443.8" r="2.25"/>
<circle cx="487.5" cy="284.1" r="2.25"/>
<circle cx="487.5" cy="333.9" r="2.25"/>
<circle cx="487.5" cy="339.6" r="2.25"/>
<circle cx="487.5" cy="406.0" r="2.25"/>
<circle cx="487.5" cy="407.8" r="2.25"/>
<circle cx="487.5" cy="418.5" r="2.25"/>
<circle cx="487.5" cy="420.4" r="2.25"/>
<circle cx="487.5" cy="422.3" r="2.25"/>
<circle cx="487.5" cy="432.2" r="2.25"/>
<circle cx="487.5" cy="434.5" r="2.25"/>
<circle cx="487.5" cy="436.8" r="2.25"/>
<circle cx="487.5" cy="441.0" r="2.25"/>
<circle cx="487.5" cy="443.5" r="2.25"/>
<circle cx="497.4" cy="352.8" r="2.25"/>
<circle cx="497.4" cy="443.1" r="2.25"/>
<circle cx="507.3" cy="343.0" r="2.25"/>
<circle cx="507.3" cy="392.5" r="2.25"/>
<circle cx="507.3" cy="404.6" r="2.25"/>
<circle cx="507.3" cy="421.7" r="2.25"/>
<circle cx="507.3" cy="423.9" r="2.25"/>
<circle cx="507.3" cy="426.0" r="2.25"/>
<circle cx="507.3" cy="436.5" r="2.25"/>
<circle cx="507.3" cy="439.0" r="2.25"/>
<circle cx="507.3" cy="441.5" r="2.25"/>
<circle cx="507.3" cy="443.5" r="2.25"/>
<circle cx="517.2" cy="442.2" r="2.25"/>
<circle cx="527.0" cy="300.1" r="2.25"/>
<circle cx="527.0" cy="438.5" r="2.25"/>
<circle cx="527.0" cy="441.0" r="2.25"/>
<circle cx="527.0" cy="443.5" r="2.25"/>
<circle cx="536.9" cy="443.1" r="2.25"/>
<circle cx="546.8" cy="442.9" r="2.25"/>
<circle cx="556.7" cy="442.0" r="2.25"/>
<circle cx="566.6" cy="437.0" r="2.25"/>
<circle cx="566.6" cy="441.2" r="2.25"/>
<circle cx="566.6" cy="444.3" r="2.25"/>
<circle cx="586.4" cy="437.7" r="2.25"/>
<circle cx="586.4" cy="444.3" r="2.25"/>
<circle cx="606.1" cy="425.6" r="2.25"/>
<circle cx="606.1" cy="434.7" r="2.25"/>
<circle cx="606.1" cy="444.3" r="2.25"/>
<circle cx="645.7" cy="437.7" r="2.25"/>
<text x="0.5" y="519.9" font-size="27">E</text>
<line x1="72.4" y1="557.2" x2="72.4" y2="717.8" stroke="#1c1c1c" stroke-width="2.6"/>
<line x1="71.1" y1="716.8" x2="310.4" y2="716.8" stroke="#1c1c1c" stroke-width="2.0"/>
<line x1="69.0" y1="558.2" x2="72.4" y2="558.2" stroke="#1c1c1c" stroke-width="1.8"/>
<text x="68.1" y="562.2" font-size="10.6" text-anchor="end" textLength="26.0" lengthAdjust="spacingAndGlyphs">10000</text>
<line x1="70.0" y1="585.9" x2="72.4" y2="585.9" stroke="#1c1c1c" stroke-width="1.3"/>
<line x1="70.0" y1="578.9" x2="72.4" y2="578.9" stroke="#1c1c1c" stroke-width="1.3"/>
<line x1="70.0" y1="574.0" x2="72.4" y2="574.0" stroke="#1c1c1c" stroke-width="1.3"/>
<line x1="70.0" y1="570.1" x2="72.4" y2="570.1" stroke="#1c1c1c" stroke-width="1.3"/>
<line x1="70.0" y1="567.0" x2="72.4" y2="567.0" stroke="#1c1c1c" stroke-width="1.3"/>
<line x1="70.0" y1="564.3" x2="72.4" y2="564.3" stroke="#1c1c1c" stroke-width="1.3"/>
<line x1="70.0" y1="562.0" x2="72.4" y2="562.0" stroke="#1c1c1c" stroke-width="1.3"/>
<line x1="70.0" y1="560.0" x2="72.4" y2="560.0" stroke="#1c1c1c" stroke-width="1.3"/>
<line x1="69.0" y1="597.9" x2="72.4" y2="597.9" stroke="#1c1c1c" stroke-width="1.8"/>
<text x="68.1" y="601.9" font-size="10.6" text-anchor="end" textLength="20.8" lengthAdjust="spacingAndGlyphs">1000</text>
<line x1="70.0" y1="625.6" x2="72.4" y2="625.6" stroke="#1c1c1c" stroke-width="1.3"/>
<line x1="70.0" y1="618.6" x2="72.4" y2="618.6" stroke="#1c1c1c" stroke-width="1.3"/>
<line x1="70.0" y1="613.6" x2="72.4" y2="613.6" stroke="#1c1c1c" stroke-width="1.3"/>
<line x1="70.0" y1="609.8" x2="72.4" y2="609.8" stroke="#1c1c1c" stroke-width="1.3"/>
<line x1="70.0" y1="606.6" x2="72.4" y2="606.6" stroke="#1c1c1c" stroke-width="1.3"/>
<line x1="70.0" y1="604.0" x2="72.4" y2="604.0" stroke="#1c1c1c" stroke-width="1.3"/>
<line x1="70.0" y1="601.7" x2="72.4" y2="601.7" stroke="#1c1c1c" stroke-width="1.3"/>
<line x1="70.0" y1="599.7" x2="72.4" y2="599.7" stroke="#1c1c1c" stroke-width="1.3"/>
<line x1="69.0" y1="637.5" x2="72.4" y2="637.5" stroke="#1c1c1c" stroke-width="1.8"/>
<text x="68.1" y="641.5" font-size="10.6" text-anchor="end" textLength="15.6" lengthAdjust="spacingAndGlyphs">100</text>
<line x1="70.0" y1="665.2" x2="72.4" y2="665.2" stroke="#1c1c1c" stroke-width="1.3"/>
<line x1="70.0" y1="658.2" x2="72.4" y2="658.2" stroke="#1c1c1c" stroke-width="1.3"/>
<line x1="70.0" y1="653.3" x2="72.4" y2="653.3" stroke="#1c1c1c" stroke-width="1.3"/>
<line x1="70.0" y1="649.4" x2="72.4" y2="649.4" stroke="#1c1c1c" stroke-width="1.3"/>
<line x1="70.0" y1="646.3" x2="72.4" y2="646.3" stroke="#1c1c1c" stroke-width="1.3"/>
<line x1="70.0" y1="643.6" x2="72.4" y2="643.6" stroke="#1c1c1c" stroke-width="1.3"/>
<line x1="70.0" y1="641.3" x2="72.4" y2="641.3" stroke="#1c1c1c" stroke-width="1.3"/>
<line x1="70.0" y1="639.3" x2="72.4" y2="639.3" stroke="#1c1c1c" stroke-width="1.3"/>
<line x1="69.0" y1="677.2" x2="72.4" y2="677.2" stroke="#1c1c1c" stroke-width="1.8"/>
<text x="68.1" y="681.2" font-size="10.6" text-anchor="end" textLength="10.4" lengthAdjust="spacingAndGlyphs">10</text>
<line x1="70.0" y1="704.9" x2="72.4" y2="704.9" stroke="#1c1c1c" stroke-width="1.3"/>
<line x1="70.0" y1="697.9" x2="72.4" y2="697.9" stroke="#1c1c1c" stroke-width="1.3"/>
<line x1="70.0" y1="692.9" x2="72.4" y2="692.9" stroke="#1c1c1c" stroke-width="1.3"/>
<line x1="70.0" y1="689.1" x2="72.4" y2="689.1" stroke="#1c1c1c" stroke-width="1.3"/>
<line x1="70.0" y1="685.9" x2="72.4" y2="685.9" stroke="#1c1c1c" stroke-width="1.3"/>
<line x1="70.0" y1="683.3" x2="72.4" y2="683.3" stroke="#1c1c1c" stroke-width="1.3"/>
<line x1="70.0" y1="681.0" x2="72.4" y2="681.0" stroke="#1c1c1c" stroke-width="1.3"/>
<line x1="70.0" y1="679.0" x2="72.4" y2="679.0" stroke="#1c1c1c" stroke-width="1.3"/>
<line x1="69.0" y1="716.8" x2="72.4" y2="716.8" stroke="#1c1c1c" stroke-width="1.8"/>
<text x="68.1" y="720.8" font-size="10.6" text-anchor="end" textLength="5.2" lengthAdjust="spacingAndGlyphs">1</text>
<text transform="translate(38.9,635.9) rotate(-90)" x="0" y="0" font-size="14" text-anchor="middle" textLength="83.3" lengthAdjust="spacingAndGlyphs">IL-10 (pg/ml)</text>
<line x1="124.5" y1="557.8" x2="253.9" y2="557.8" stroke="#1c1c1c" stroke-width="2"/>
<text x="166.9" y="550.8" font-size="10.7" textLength="39.7" lengthAdjust="spacingAndGlyphs"><tspan font-style="italic">p</tspan> &lt; 0.01</text>
<line x1="132.0" y1="716.8" x2="132.0" y2="720.3" stroke="#1c1c1c" stroke-width="1.5"/>
<line x1="251.1" y1="716.8" x2="251.1" y2="720.3" stroke="#1c1c1c" stroke-width="1.5"/>
<text x="132.0" y="734.0" font-size="14.6" text-anchor="middle" textLength="109.2" lengthAdjust="spacingAndGlyphs">Inactive disease</text>
<text x="251.0" y="734.0" font-size="14.6" text-anchor="middle" textLength="98.6" lengthAdjust="spacingAndGlyphs">Active disease</text>
<circle cx="132.0" cy="579.5" r="2.25"/>
<circle cx="132.0" cy="609.7" r="2.25"/>
<circle cx="122.3" cy="614.5" r="2.25"/>
<circle cx="128.9" cy="617.0" r="2.25"/>
<circle cx="135.2" cy="619.3" r="2.25"/>
<circle cx="141.8" cy="616.4" r="2.25"/>
<circle cx="125.7" cy="625.2" r="2.25"/>
<circle cx="132.0" cy="628.7" r="2.25"/>
<circle cx="138.4" cy="626.9" r="2.25"/>
<circle cx="138.4" cy="638.3" r="2.25"/>
<circle cx="125.7" cy="642.0" r="2.25"/>
<circle cx="132.0" cy="642.0" r="2.25"/>
<circle cx="122.3" cy="645.2" r="2.25"/>
<circle cx="141.8" cy="644.7" r="2.25"/>
<circle cx="135.2" cy="647.4" r="2.25"/>
<circle cx="128.9" cy="650.4" r="2.25"/>
<circle cx="106.0" cy="655.3" r="2.25"/>
<circle cx="112.4" cy="656.8" r="2.25"/>
<circle cx="119.1" cy="657.2" r="2.25"/>
<circle cx="125.7" cy="659.0" r="2.25"/>
<circle cx="132.0" cy="659.4" r="2.25"/>
<circle cx="138.4" cy="657.8" r="2.25"/>
<circle cx="145.0" cy="656.8" r="2.25"/>
<circle cx="151.5" cy="655.8" r="2.25"/>
<circle cx="157.8" cy="654.6" r="2.25"/>
<circle cx="109.5" cy="662.6" r="2.25"/>
<circle cx="115.8" cy="665.1" r="2.25"/>
<circle cx="122.3" cy="666.3" r="2.25"/>
<circle cx="128.9" cy="667.0" r="2.25"/>
<circle cx="135.2" cy="666.6" r="2.25"/>
<circle cx="141.8" cy="666.3" r="2.25"/>
<circle cx="147.9" cy="663.4" r="2.25"/>
<circle cx="154.5" cy="661.2" r="2.25"/>
<circle cx="94.9" cy="671.7" r="2.25"/>
<circle cx="101.2" cy="673.9" r="2.25"/>
<circle cx="107.4" cy="675.8" r="2.25"/>
<circle cx="113.6" cy="677.7" r="2.25"/>
<circle cx="119.4" cy="677.7" r="2.25"/>
<circle cx="125.7" cy="678.0" r="2.25"/>
<circle cx="132.0" cy="678.0" r="2.25"/>
<circle cx="138.4" cy="678.0" r="2.25"/>
<circle cx="142.0" cy="678.7" r="2.25"/>
<circle cx="144.2" cy="677.2" r="2.25"/>
<circle cx="150.1" cy="677.7" r="2.25"/>
<circle cx="156.6" cy="673.9" r="2.25"/>
<circle cx="162.8" cy="672.4" r="2.25"/>
<circle cx="169.1" cy="671.7" r="2.25"/>
<circle cx="109.5" cy="686.7" r="2.25"/>
<circle cx="115.8" cy="688.6" r="2.25"/>
<circle cx="119.1" cy="684.1" r="2.25"/>
<circle cx="122.3" cy="689.9" r="2.25"/>
<circle cx="125.7" cy="684.8" r="2.25"/>
<circle cx="128.9" cy="691.1" r="2.25"/>
<circle cx="135.2" cy="684.8" r="2.25"/>
<circle cx="135.2" cy="692.8" r="2.25"/>
<circle cx="141.8" cy="690.8" r="2.25"/>
<circle cx="147.9" cy="689.6" r="2.25"/>
<circle cx="154.5" cy="687.0" r="2.25"/>
<circle cx="96.0" cy="716.8" r="2.25"/>
<circle cx="99.1" cy="716.8" r="2.25"/>
<circle cx="102.2" cy="716.8" r="2.25"/>
<circle cx="105.4" cy="716.8" r="2.25"/>
<circle cx="108.5" cy="716.8" r="2.25"/>
<circle cx="111.6" cy="716.8" r="2.25"/>
<circle cx="114.7" cy="716.8" r="2.25"/>
<circle cx="117.9" cy="716.8" r="2.25"/>
<circle cx="121.0" cy="716.8" r="2.25"/>
<circle cx="124.1" cy="716.8" r="2.25"/>
<circle cx="127.2" cy="716.8" r="2.25"/>
<circle cx="130.3" cy="716.8" r="2.25"/>
<circle cx="133.5" cy="716.8" r="2.25"/>
<circle cx="136.6" cy="716.8" r="2.25"/>
<circle cx="139.7" cy="716.8" r="2.25"/>
<circle cx="142.8" cy="716.8" r="2.25"/>
<circle cx="145.9" cy="716.8" r="2.25"/>
<circle cx="149.1" cy="716.8" r="2.25"/>
<circle cx="152.2" cy="716.8" r="2.25"/>
<circle cx="155.3" cy="716.8" r="2.25"/>
<circle cx="158.4" cy="716.8" r="2.25"/>
<circle cx="161.6" cy="716.8" r="2.25"/>
<circle cx="164.7" cy="716.8" r="2.25"/>
<circle cx="167.8" cy="716.8" r="2.25"/>
<line x1="92.4" y1="678.0" x2="171.7" y2="678.0" stroke="#1c1c1c" stroke-width="2"/>
<rect x="249.0" y="572.1" width="4.2" height="4.2"/>
<rect x="249.0" y="579.7" width="4.2" height="4.2"/>
<rect x="239.5" y="591.4" width="4.2" height="4.2"/>
<rect x="245.8" y="596.5" width="4.2" height="4.2"/>
<rect x="255.6" y="597.5" width="4.2" height="4.2"/>
<rect x="261.8" y="595.7" width="4.2" height="4.2"/>
<rect x="252.2" y="602.6" width="4.2" height="4.2"/>
<rect x="245.8" y="604.9" width="4.2" height="4.2"/>
<rect x="249.0" y="616.6" width="4.2" height="4.2"/>
<rect x="242.7" y="619.5" width="4.2" height="4.2"/>
<rect x="255.6" y="619.8" width="4.2" height="4.2"/>
<rect x="249.0" y="623.5" width="4.2" height="4.2"/>
<rect x="245.8" y="627.1" width="4.2" height="4.2"/>
<rect x="252.2" y="631.5" width="4.2" height="4.2"/>
<rect x="249.0" y="640.3" width="4.2" height="4.2"/>
<rect x="261.8" y="642.5" width="4.2" height="4.2"/>
<rect x="232.6" y="647.5" width="4.2" height="4.2"/>
<rect x="239.5" y="649.0" width="4.2" height="4.2"/>
<rect x="235.9" y="651.9" width="4.2" height="4.2"/>
<rect x="242.7" y="652.6" width="4.2" height="4.2"/>
<rect x="249.0" y="649.7" width="4.2" height="4.2"/>
<rect x="255.6" y="647.5" width="4.2" height="4.2"/>
<rect x="261.8" y="652.2" width="4.2" height="4.2"/>
<rect x="255.6" y="654.8" width="4.2" height="4.2"/>
<rect x="249.0" y="658.0" width="4.2" height="4.2"/>
<rect x="271.9" y="659.5" width="4.2" height="4.2"/>
<rect x="226.4" y="661.4" width="4.2" height="4.2"/>
<rect x="232.9" y="663.6" width="4.2" height="4.2"/>
<rect x="239.5" y="664.3" width="4.2" height="4.2"/>
<rect x="249.0" y="663.6" width="4.2" height="4.2"/>
<rect x="255.6" y="663.9" width="4.2" height="4.2"/>
<rect x="265.1" y="662.8" width="4.2" height="4.2"/>
<rect x="235.9" y="667.6" width="4.2" height="4.2"/>
<rect x="249.0" y="666.2" width="4.2" height="4.2"/>
<rect x="261.8" y="668.2" width="4.2" height="4.2"/>
<rect x="242.7" y="670.6" width="4.2" height="4.2"/>
<rect x="255.6" y="671.1" width="4.2" height="4.2"/>
<rect x="249.0" y="673.0" width="4.2" height="4.2"/>
<rect x="235.9" y="684.7" width="4.2" height="4.2"/>
<rect x="242.7" y="688.7" width="4.2" height="4.2"/>
<rect x="249.0" y="689.5" width="4.2" height="4.2"/>
<rect x="255.6" y="685.2" width="4.2" height="4.2"/>
<rect x="261.8" y="684.7" width="4.2" height="4.2"/>
<rect x="213.6" y="714.9" width="3.9" height="3.9"/>
<rect x="218.3" y="714.9" width="3.9" height="3.9"/>
<rect x="223.0" y="714.9" width="3.9" height="3.9"/>
<rect x="227.8" y="714.9" width="3.9" height="3.9"/>
<rect x="232.5" y="714.9" width="3.9" height="3.9"/>
<rect x="237.2" y="714.9" width="3.9" height="3.9"/>
<rect x="242.0" y="714.9" width="3.9" height="3.9"/>
<rect x="246.7" y="714.9" width="3.9" height="3.9"/>
<rect x="251.4" y="714.9" width="3.9" height="3.9"/>
<rect x="256.2" y="714.9" width="3.9" height="3.9"/>
<rect x="260.9" y="714.9" width="3.9" height="3.9"/>
<rect x="265.6" y="714.9" width="3.9" height="3.9"/>
<rect x="270.4" y="714.9" width="3.9" height="3.9"/>
<rect x="275.1" y="714.9" width="3.9" height="3.9"/>
<rect x="279.8" y="714.9" width="3.9" height="3.9"/>
<rect x="284.6" y="714.9" width="3.9" height="3.9"/>
<line x1="211.7" y1="664.5" x2="290.5" y2="664.5" stroke="#1c1c1c" stroke-width="2"/>
<text x="365.8" y="519.9" font-size="27">F</text>
<line x1="428.0" y1="551.3" x2="428.0" y2="717.7" stroke="#1c1c1c" stroke-width="2.6"/>
<line x1="426.7" y1="716.7" x2="675.3" y2="716.7" stroke="#1c1c1c" stroke-width="2.0"/>
<line x1="424.6" y1="552.3" x2="428.0" y2="552.3" stroke="#1c1c1c" stroke-width="1.8"/>
<text x="423.7" y="556.3" font-size="10.6" text-anchor="end" textLength="26.0" lengthAdjust="spacingAndGlyphs">10000</text>
<line x1="425.6" y1="581.0" x2="428.0" y2="581.0" stroke="#1c1c1c" stroke-width="1.3"/>
<line x1="425.6" y1="573.8" x2="428.0" y2="573.8" stroke="#1c1c1c" stroke-width="1.3"/>
<line x1="425.6" y1="568.7" x2="428.0" y2="568.7" stroke="#1c1c1c" stroke-width="1.3"/>
<line x1="425.6" y1="564.7" x2="428.0" y2="564.7" stroke="#1c1c1c" stroke-width="1.3"/>
<line x1="425.6" y1="561.4" x2="428.0" y2="561.4" stroke="#1c1c1c" stroke-width="1.3"/>
<line x1="425.6" y1="558.7" x2="428.0" y2="558.7" stroke="#1c1c1c" stroke-width="1.3"/>
<line x1="425.6" y1="556.3" x2="428.0" y2="556.3" stroke="#1c1c1c" stroke-width="1.3"/>
<line x1="425.6" y1="554.2" x2="428.0" y2="554.2" stroke="#1c1c1c" stroke-width="1.3"/>
<line x1="424.6" y1="593.4" x2="428.0" y2="593.4" stroke="#1c1c1c" stroke-width="1.8"/>
<text x="423.7" y="597.4" font-size="10.6" text-anchor="end" textLength="20.8" lengthAdjust="spacingAndGlyphs">1000</text>
<line x1="425.6" y1="622.1" x2="428.0" y2="622.1" stroke="#1c1c1c" stroke-width="1.3"/>
<line x1="425.6" y1="614.9" x2="428.0" y2="614.9" stroke="#1c1c1c" stroke-width="1.3"/>
<line x1="425.6" y1="609.8" x2="428.0" y2="609.8" stroke="#1c1c1c" stroke-width="1.3"/>
<line x1="425.6" y1="605.8" x2="428.0" y2="605.8" stroke="#1c1c1c" stroke-width="1.3"/>
<line x1="425.6" y1="602.5" x2="428.0" y2="602.5" stroke="#1c1c1c" stroke-width="1.3"/>
<line x1="425.6" y1="599.8" x2="428.0" y2="599.8" stroke="#1c1c1c" stroke-width="1.3"/>
<line x1="425.6" y1="597.4" x2="428.0" y2="597.4" stroke="#1c1c1c" stroke-width="1.3"/>
<line x1="425.6" y1="595.3" x2="428.0" y2="595.3" stroke="#1c1c1c" stroke-width="1.3"/>
<line x1="424.6" y1="634.5" x2="428.0" y2="634.5" stroke="#1c1c1c" stroke-width="1.8"/>
<text x="423.7" y="638.5" font-size="10.6" text-anchor="end" textLength="15.6" lengthAdjust="spacingAndGlyphs">100</text>
<line x1="425.6" y1="663.2" x2="428.0" y2="663.2" stroke="#1c1c1c" stroke-width="1.3"/>
<line x1="425.6" y1="656.0" x2="428.0" y2="656.0" stroke="#1c1c1c" stroke-width="1.3"/>
<line x1="425.6" y1="650.9" x2="428.0" y2="650.9" stroke="#1c1c1c" stroke-width="1.3"/>
<line x1="425.6" y1="646.9" x2="428.0" y2="646.9" stroke="#1c1c1c" stroke-width="1.3"/>
<line x1="425.6" y1="643.6" x2="428.0" y2="643.6" stroke="#1c1c1c" stroke-width="1.3"/>
<line x1="425.6" y1="640.9" x2="428.0" y2="640.9" stroke="#1c1c1c" stroke-width="1.3"/>
<line x1="425.6" y1="638.5" x2="428.0" y2="638.5" stroke="#1c1c1c" stroke-width="1.3"/>
<line x1="425.6" y1="636.4" x2="428.0" y2="636.4" stroke="#1c1c1c" stroke-width="1.3"/>
<line x1="424.6" y1="675.6" x2="428.0" y2="675.6" stroke="#1c1c1c" stroke-width="1.8"/>
<text x="423.7" y="679.6" font-size="10.6" text-anchor="end" textLength="10.4" lengthAdjust="spacingAndGlyphs">10</text>
<line x1="425.6" y1="704.3" x2="428.0" y2="704.3" stroke="#1c1c1c" stroke-width="1.3"/>
<line x1="425.6" y1="697.1" x2="428.0" y2="697.1" stroke="#1c1c1c" stroke-width="1.3"/>
<line x1="425.6" y1="692.0" x2="428.0" y2="692.0" stroke="#1c1c1c" stroke-width="1.3"/>
<line x1="425.6" y1="688.0" x2="428.0" y2="688.0" stroke="#1c1c1c" stroke-width="1.3"/>
<line x1="425.6" y1="684.7" x2="428.0" y2="684.7" stroke="#1c1c1c" stroke-width="1.3"/>
<line x1="425.6" y1="682.0" x2="428.0" y2="682.0" stroke="#1c1c1c" stroke-width="1.3"/>
<line x1="425.6" y1="679.6" x2="428.0" y2="679.6" stroke="#1c1c1c" stroke-width="1.3"/>
<line x1="425.6" y1="677.5" x2="428.0" y2="677.5" stroke="#1c1c1c" stroke-width="1.3"/>
<line x1="424.6" y1="716.7" x2="428.0" y2="716.7" stroke="#1c1c1c" stroke-width="1.8"/>
<text x="423.7" y="720.7" font-size="10.6" text-anchor="end" textLength="5.2" lengthAdjust="spacingAndGlyphs">1</text>
<text transform="translate(394.0,633.0) rotate(-90)" x="0" y="0" font-size="14" text-anchor="middle" textLength="83.3" lengthAdjust="spacingAndGlyphs">IL-37 (pg/ml)</text>
<line x1="489.2" y1="558.4" x2="613.8" y2="558.4" stroke="#1c1c1c" stroke-width="2"/>
<text x="530.3" y="551.0" font-size="10.7" textLength="42.5" lengthAdjust="spacingAndGlyphs"><tspan font-style="italic">p</tspan> = 0.64</text>
<line x1="489.9" y1="716.7" x2="489.9" y2="720.2" stroke="#1c1c1c" stroke-width="1.5"/>
<line x1="613.1" y1="716.7" x2="613.1" y2="720.2" stroke="#1c1c1c" stroke-width="1.5"/>
<text x="489.9" y="735.0" font-size="14.6" text-anchor="middle" textLength="107.6" lengthAdjust="spacingAndGlyphs">Inactive disease</text>
<text x="614.6" y="735.0" font-size="14.6" text-anchor="middle" textLength="97.6" lengthAdjust="spacingAndGlyphs">Active disease</text>
<circle cx="483.6" cy="581.4" r="2.25"/>
<circle cx="489.9" cy="583.4" r="2.25"/>
<circle cx="496.3" cy="580.1" r="2.25"/>
<circle cx="493.0" cy="592.1" r="2.25"/>
<circle cx="483.6" cy="594.8" r="2.25"/>
<circle cx="486.6" cy="599.5" r="2.25"/>
<circle cx="493.0" cy="604.2" r="2.25"/>
<circle cx="496.3" cy="602.2" r="2.25"/>
<circle cx="486.6" cy="610.3" r="2.25"/>
<circle cx="477.1" cy="613.6" r="2.25"/>
<circle cx="483.6" cy="616.3" r="2.25"/>
<circle cx="489.9" cy="618.3" r="2.25"/>
<circle cx="496.3" cy="615.6" r="2.25"/>
<circle cx="503.0" cy="612.3" r="2.25"/>
<circle cx="480.2" cy="622.3" r="2.25"/>
<circle cx="493.0" cy="623.7" r="2.25"/>
<circle cx="499.7" cy="622.3" r="2.25"/>
<circle cx="486.6" cy="628.0" r="2.25"/>
<circle cx="480.2" cy="635.8" r="2.25"/>
<circle cx="486.6" cy="637.8" r="2.25"/>
<circle cx="493.0" cy="638.2" r="2.25"/>
<circle cx="499.7" cy="636.2" r="2.25"/>
<circle cx="477.1" cy="641.1" r="2.25"/>
<circle cx="483.6" cy="645.8" r="2.25"/>
<circle cx="489.9" cy="647.6" r="2.25"/>
<circle cx="496.3" cy="646.8" r="2.25"/>
<circle cx="503.0" cy="644.2" r="2.25"/>
<circle cx="489.9" cy="662.0" r="2.25"/>
<circle cx="454.5" cy="716.7" r="2.25"/>
<circle cx="457.6" cy="716.7" r="2.25"/>
<circle cx="460.7" cy="716.7" r="2.25"/>
<circle cx="463.8" cy="716.7" r="2.25"/>
<circle cx="466.8" cy="716.7" r="2.25"/>
<circle cx="469.9" cy="716.7" r="2.25"/>
<circle cx="473.0" cy="716.7" r="2.25"/>
<circle cx="476.1" cy="716.7" r="2.25"/>
<circle cx="479.2" cy="716.7" r="2.25"/>
<circle cx="482.3" cy="716.7" r="2.25"/>
<circle cx="485.4" cy="716.7" r="2.25"/>
<circle cx="488.5" cy="716.7" r="2.25"/>
<circle cx="491.5" cy="716.7" r="2.25"/>
<circle cx="494.6" cy="716.7" r="2.25"/>
<circle cx="497.7" cy="716.7" r="2.25"/>
<circle cx="500.8" cy="716.7" r="2.25"/>
<circle cx="503.9" cy="716.7" r="2.25"/>
<circle cx="507.0" cy="716.7" r="2.25"/>
<circle cx="510.1" cy="716.7" r="2.25"/>
<circle cx="513.2" cy="716.7" r="2.25"/>
<circle cx="516.2" cy="716.7" r="2.25"/>
<circle cx="519.3" cy="716.7" r="2.25"/>
<circle cx="522.4" cy="716.7" r="2.25"/>
<circle cx="525.5" cy="716.7" r="2.25"/>
<line x1="448.0" y1="653.5" x2="531.4" y2="653.5" stroke="#555" stroke-width="1.2"/>
<rect x="611.0" y="576.0" width="4.2" height="4.2"/>
<rect x="608.0" y="583.9" width="4.2" height="4.2"/>
<rect x="614.1" y="585.0" width="4.2" height="4.2"/>
<rect x="598.1" y="587.0" width="4.2" height="4.2"/>
<rect x="604.7" y="588.9" width="4.2" height="4.2"/>
<rect x="611.0" y="591.8" width="4.2" height="4.2"/>
<rect x="617.6" y="590.2" width="4.2" height="4.2"/>
<rect x="623.7" y="587.6" width="4.2" height="4.2"/>
<rect x="594.8" y="594.8" width="4.2" height="4.2"/>
<rect x="601.4" y="598.8" width="4.2" height="4.2"/>
<rect x="608.0" y="598.8" width="4.2" height="4.2"/>
<rect x="614.1" y="598.8" width="4.2" height="4.2"/>
<rect x="620.7" y="598.8" width="4.2" height="4.2"/>
<rect x="627.0" y="597.5" width="4.2" height="4.2"/>
<rect x="591.8" y="603.6" width="4.2" height="4.2"/>
<rect x="598.1" y="605.7" width="4.2" height="4.2"/>
<rect x="604.7" y="607.3" width="4.2" height="4.2"/>
<rect x="611.0" y="609.7" width="4.2" height="4.2"/>
<rect x="620.5" y="608.0" width="4.2" height="4.2"/>
<rect x="627.0" y="606.3" width="4.2" height="4.2"/>
<rect x="633.6" y="604.0" width="4.2" height="4.2"/>
<rect x="598.1" y="613.2" width="4.2" height="4.2"/>
<rect x="623.7" y="612.6" width="4.2" height="4.2"/>
<rect x="604.7" y="615.9" width="4.2" height="4.2"/>
<rect x="611.0" y="617.6" width="4.2" height="4.2"/>
<rect x="617.6" y="614.5" width="4.2" height="4.2"/>
<rect x="601.4" y="622.4" width="4.2" height="4.2"/>
<rect x="608.0" y="624.1" width="4.2" height="4.2"/>
<rect x="614.1" y="623.7" width="4.2" height="4.2"/>
<rect x="620.7" y="621.1" width="4.2" height="4.2"/>
<rect x="598.1" y="627.7" width="4.2" height="4.2"/>
<rect x="604.7" y="629.9" width="4.2" height="4.2"/>
<rect x="611.0" y="631.2" width="4.2" height="4.2"/>
<rect x="617.6" y="629.7" width="4.2" height="4.2"/>
<rect x="623.7" y="627.0" width="4.2" height="4.2"/>
<rect x="591.8" y="637.4" width="4.2" height="4.2"/>
<rect x="597.9" y="638.1" width="4.2" height="4.2"/>
<rect x="601.4" y="638.7" width="4.2" height="4.2"/>
<rect x="605.0" y="638.4" width="4.2" height="4.2"/>
<rect x="614.1" y="638.1" width="4.2" height="4.2"/>
<rect x="620.7" y="640.6" width="4.2" height="4.2"/>
<rect x="624.1" y="637.8" width="4.2" height="4.2"/>
<rect x="630.7" y="635.5" width="4.2" height="4.2"/>
<rect x="608.0" y="643.9" width="4.2" height="4.2"/>
<rect x="614.1" y="645.0" width="4.2" height="4.2"/>
<rect x="611.0" y="654.8" width="4.2" height="4.2"/>
<rect x="617.6" y="657.9" width="4.2" height="4.2"/>
<rect x="605.0" y="663.1" width="4.2" height="4.2"/>
<rect x="611.0" y="663.6" width="4.2" height="4.2"/>
<line x1="572.4" y1="646.7" x2="654.1" y2="646.7" stroke="#555" stroke-width="1.2"/>
<rect x="572.6" y="714.5" width="81" height="4.8"/>
</svg>
</body></html>
